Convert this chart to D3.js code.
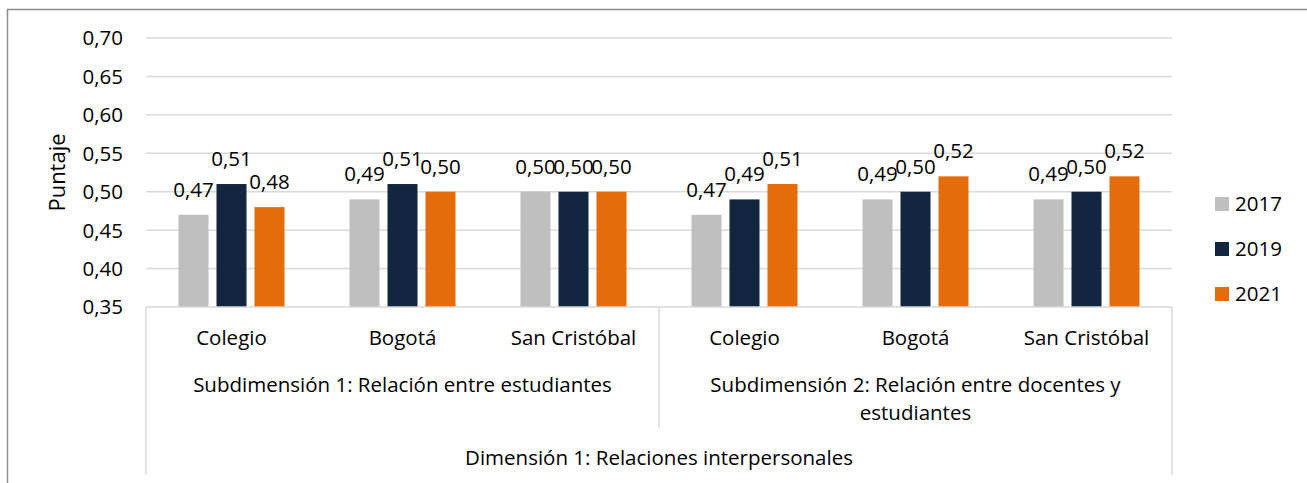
<!DOCTYPE html>
<html>
<head>
<meta charset="utf-8">
<script src="https://cdn.jsdelivr.net/npm/d3@7"></script>
<style>
  body { margin: 0; background: #fff; }
  svg text { font-family: 'Open Sans', 'Noto Sans', sans-serif; fill: #000; }
</style>
</head>
<body>
<div id="chart"></div>
<script>
const categories = ['Colegio', 'Bogotá', 'San Cristóbal', 'Colegio', 'Bogotá', 'San Cristóbal'];
const subdimensions = [
  ['Subdimensión 1: Relación entre estudiantes'],
  ['Subdimensión 2: Relación entre docentes y', 'estudiantes']
];
const dimension = 'Dimensión 1: Relaciones interpersonales';
const years = ['2017', '2019', '2021'];
const values2017 = [0.47, 0.49, 0.50, 0.47, 0.49, 0.49];
const values2019 = [0.51, 0.51, 0.50, 0.49, 0.50, 0.50];
const values2021 = [0.48, 0.50, 0.50, 0.51, 0.52, 0.52];
const yTicks = [0.35, 0.40, 0.45, 0.50, 0.55, 0.60, 0.65, 0.70];
const COLORS = { '2017': '#bfbfbf', '2019': '#13263f', '2021': '#e46c0a' };

const width = 1307, height = 483;
const plot = { left: 146, right: 1172, top: 38, bottom: 307 };
const FS = 20.5;
const fmt = v => v.toFixed(2).replace('.', ',');

const svg = d3.select('#chart').append('svg')
  .attr('width', width).attr('height', height);

// outer frame
svg.append('rect')
  .attr('x', 7.5).attr('y', 9.5).attr('width', width + 10).attr('height', height + 10)
  .attr('fill', 'none').attr('stroke', '#8c8c8c').attr('stroke-width', 1.5);

const y = d3.scaleLinear().domain([0.35, 0.70]).range([plot.bottom, plot.top]);
const x0 = d3.scaleBand().domain(d3.range(categories.length)).range([plot.left, plot.right]);
const x1 = d3.scaleBand().domain(years).range([0, 106]).paddingInner(0.21);

// gridlines
svg.append('g').selectAll('line').data(yTicks.slice(1)).join('line')
  .attr('x1', plot.left).attr('x2', plot.right)
  .attr('y1', d => y(d)).attr('y2', d => y(d))
  .attr('stroke', '#d9d9d9').attr('stroke-width', 1.5);

// y tick labels
svg.append('g').selectAll('text').data(yTicks).join('text')
  .attr('x', 123).attr('y', d => y(d)).attr('dy', '0.36em')
  .attr('text-anchor', 'end').attr('font-size', FS)
  .text(fmt);

svg.append('text')
  .attr('transform', `translate(65,${(plot.top + plot.bottom) / 2}) rotate(-90)`)
  .attr('text-anchor', 'middle').attr('font-size', 22)
  .text('Puntaje');

// bars
const series = years.map((yr, i) => ({ year: yr, values: [values2017, values2019, values2021][i] }));
const groups = svg.append('g').selectAll('g').data(series).join('g')
  .attr('fill', d => COLORS[d.year]);

groups.selectAll('rect').data(d => d.values.map((v, i) => ({ v, i, year: d.year }))).join('rect')
  .attr('x', d => x0(d.i) + x0.bandwidth() / 2 - 53 + x1(d.year))
  .attr('width', x1.bandwidth())
  .attr('y', d => y(d.v))
  .attr('height', d => plot.bottom - y(d.v));

groups.selectAll('text').data(d => d.values.map((v, i) => ({ v, i, year: d.year }))).join('text')
  .attr('x', d => x0(d.i) + x0.bandwidth() / 2 - 53 + x1(d.year) + x1.bandwidth() / 2)
  .attr('y', d => y(d.v) - 18)
  .attr('text-anchor', 'middle').attr('font-size', FS)
  .style('fill', '#000')
  .text(d => fmt(d.v));

// category axis box
const axisColor = '#d9d9d9';
const mid = x0(3);
svg.append('line').attr('x1', plot.left).attr('x2', plot.right)
  .attr('y1', plot.bottom).attr('y2', plot.bottom)
  .attr('stroke', axisColor).attr('stroke-width', 1.5);
[[plot.left, 475], [plot.right, 475], [mid, 428]].forEach(([xx, y2]) => {
  svg.append('line').attr('x1', xx).attr('x2', xx)
    .attr('y1', plot.bottom).attr('y2', y2)
    .attr('stroke', axisColor).attr('stroke-width', 1.5);
});

svg.append('g').selectAll('text').data(categories).join('text')
  .attr('x', (d, i) => x0(i) + x0.bandwidth() / 2)
  .attr('y', 345)
  .attr('text-anchor', 'middle').attr('font-size', FS)
  .text(d => d);

subdimensions.forEach((lines, k) => {
  const cx = k === 0 ? (plot.left + mid) / 2 : (mid + plot.right) / 2;
  lines.forEach((ln, j) => {
    svg.append('text').attr('x', cx).attr('y', 392 + j * 28)
      .attr('text-anchor', 'middle').attr('font-size', FS).text(ln);
  });
});

svg.append('text').attr('x', (plot.left + plot.right) / 2).attr('y', 465)
  .attr('text-anchor', 'middle').attr('font-size', FS).text(dimension);

// legend
const legend = svg.append('g').selectAll('g').data(years).join('g')
  .attr('transform', (d, i) => `translate(1215,${204 + i * 45})`);
legend.append('rect').attr('x', 0).attr('y', -7).attr('width', 14).attr('height', 14)
  .attr('fill', d => COLORS[d]);
legend.append('text').attr('x', 20).attr('dy', '0.36em').attr('font-size', FS).text(d => d);
</script>
</body>
</html>
